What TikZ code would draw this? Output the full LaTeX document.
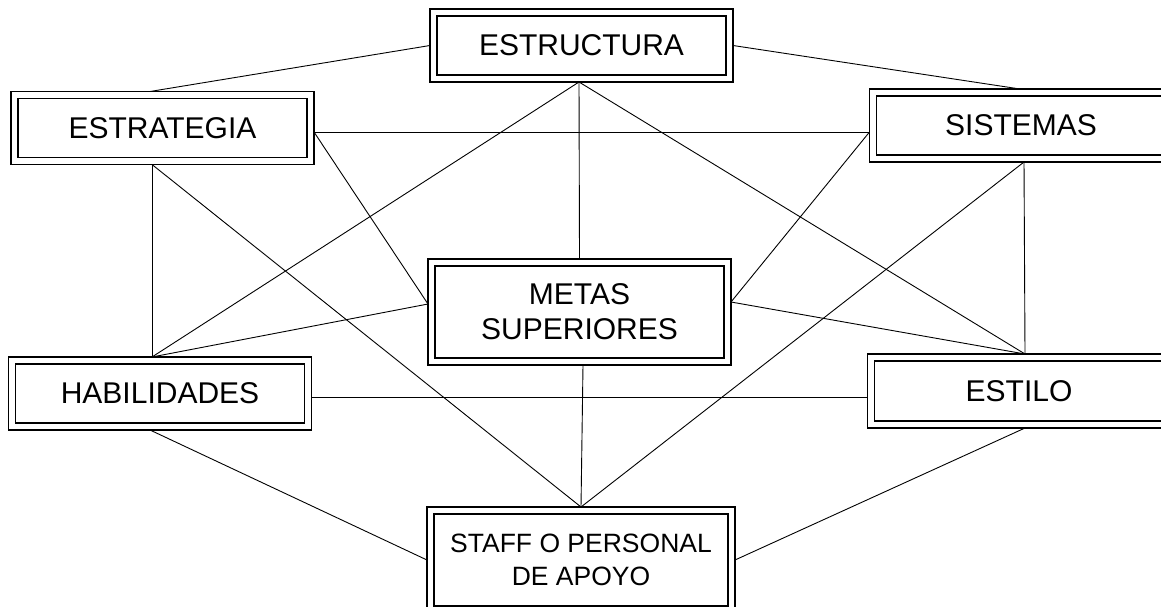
\documentclass[tikz,border=0pt]{standalone}
\usepackage{fontspec}
\setmainfont{Liberation Sans}
\begin{document}
\begin{tikzpicture}[x=1pt,y=-1pt,
  frame/.style={draw=black, line width=1.1pt, double=white, double distance=5.9pt,
    outer sep=3.5pt, inner sep=0pt, minimum width=296pt, minimum height=66pt,
    align=center, font=\fontsize{30}{35}\selectfont},
  link/.style={draw=black, line width=0.9pt}]
\useasboundingbox (0,0) rectangle (1161,607);

% the seven elements
\node[frame] (estructura) at (581.5,45.5) {ESTRUCTURA};
\node[frame] (estrategia) at (162.5,128) {ESTRATEGIA};
\node[frame] (sistemas) at (1021,125.5) {SISTEMAS};
\node[frame, minimum height=99pt] (metas) at (579.5,312) {METAS\hspace{8pt}\\SUPERIORES};
\node[frame] (habilidades) at (160,393.5) {HABILIDADES};
\node[frame, minimum height=67pt] (estilo) at (1019,391) {ESTILO};
\node[frame, minimum width=301pt, minimum height=99pt,
      font=\fontsize{26.5}{33}\selectfont] (staff) at (581,560) {STAFF O PERSONAL\\DE APOYO};

% links between the elements
\draw[link] (estructura.west) -- ([shift={(-12.5,0)}]estrategia.north);
\draw[link] (estructura.east) -- ([shift={(-1,0)}]sistemas.north);
\draw[link] ([shift={(-2.5,0)}]estructura.south) -- ([shift={(-8,0)}]habilidades.north);
\draw[link] ([shift={(-2.5,0)}]estructura.south) -- (metas.north);
\draw[link] ([shift={(-2.5,0)}]estructura.south) -- ([shift={(6,0)}]estilo.north);
\draw[link] ([shift={(0,4)}]estrategia.east) -- ([shift={(0,6.5)}]sistemas.west);
\draw[link] ([shift={(0,4)}]estrategia.east) -- ([shift={(0,-8)}]metas.west);
\draw[link] ([shift={(-10.5,0)}]estrategia.south) -- ([shift={(-8,0)}]habilidades.north);
\draw[link] ([shift={(-10.5,0)}]estrategia.south) -- (staff.north);
\draw[link] ([shift={(3,0)}]sistemas.south) -- ([shift={(6,0)}]estilo.north);
\draw[link] ([shift={(3,0)}]sistemas.south) -- (staff.north);
\draw[link] ([shift={(0,6.5)}]sistemas.west) -- ([shift={(0,-10)}]metas.east);
\draw[link] ([shift={(0,-8)}]metas.west) -- ([shift={(-8,0)}]habilidades.north);
\draw[link] ([shift={(0,-10)}]metas.east) -- ([shift={(6,0)}]estilo.north);
\draw[link] ([shift={(3.5,0)}]metas.south) -- (staff.north);
\draw[link] ([shift={(0,3.5)}]habilidades.east) -- ([shift={(0,6)}]estilo.west);
\draw[link] ([shift={(-10,0)}]habilidades.south) -- (staff.west);
\draw[link] ([shift={(6,0)}]estilo.south) -- (staff.east);
\end{tikzpicture}
\end{document}
